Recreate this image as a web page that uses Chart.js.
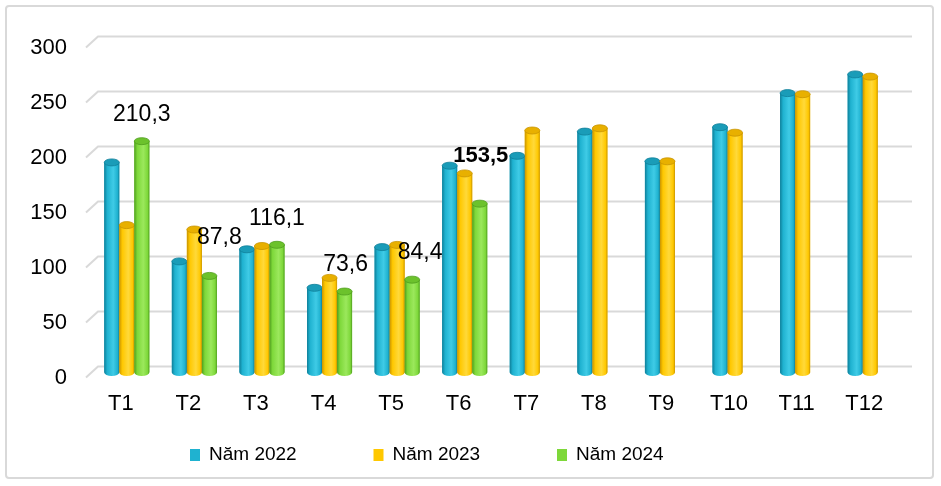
<!DOCTYPE html>
<html>
<head>
<meta charset="utf-8">
<script src="https://cdn.jsdelivr.net/npm/chart.js@4.4.1/dist/chart.umd.min.js"></script>
<style>
  html, body { margin: 0; padding: 0; background: #fff; }
  #wrap { width: 941px; height: 486px; }
</style>
</head>
<body>
<div id="wrap"><canvas id="chart" width="941" height="486"></canvas></div>
<script>
  'use strict';

  // Data
  const months = ['T1', 'T2', 'T3', 'T4', 'T5', 'T6', 'T7', 'T8', 'T9', 'T10', 'T11', 'T12'];
  const nam2022 = [191, 101, 112, 77, 114, 188, 197, 219, 192, 223, 254, 271];
  const nam2023 = [134, 130, 115, 86, 116, 181, 220, 222, 192, 218, 253, 269];
  const nam2024 = [210.3, 87.8, 116.1, 73.6, 84.4, 153.5, null, null, null, null, null, null];
  const seriesNames = ['Năm 2022', 'Năm 2023', 'Năm 2024'];

  const FONT = '"Liberation Sans", Arial, sans-serif';

  // base / light / dark shade per series
  const shades = [
    { base: '#1fb2d0', light: '#3fcbe6', dark: '#0f7f99', top: '#1a9cb8' },
    { base: '#ffc800', light: '#ffd93a', dark: '#c99400', top: '#e8b000' },
    { base: '#7ed83a', light: '#9be85c', dark: '#4f9e1e', top: '#6cc22c' }
  ];

  // hand placement of the value labels (same as the original, which moved some)
  const labelNudge = [
    { dx: 0, dy: -23 }, { dx: 10, dy: -35 }, { dx: 0, dy: -23 },
    { dx: 1, dy: -23 }, { dx: 8, dy: -24 }, { dx: 1, dy: -44, bold: true }
  ];

  const DEPTH_X = 12, DEPTH_Y = 11;   // fake 3D back wall
  const BAR_SHIFT_X = 6, BAR_SHIFT_Y = -5;

  function fmt(v) {
    return v.toFixed(1).replace('.', ',');
  }

  // frame + 3D-ish gridlines
  const backdrop = {
    id: 'backdrop',
    beforeDraw(chart) {
      const ctx = chart.ctx;
      ctx.save();
      ctx.fillStyle = '#fff';
      ctx.fillRect(0, 0, chart.width, chart.height);
      ctx.strokeStyle = '#d9d9d9';
      ctx.lineWidth = 2;
      ctx.beginPath();
      ctx.roundRect(6, 6, 927, 472, 3);
      ctx.stroke();
      ctx.restore();
    },
    beforeDatasetsDraw(chart) {
      const ctx = chart.ctx;
      const y = chart.scales.y;
      const area = chart.chartArea;
      ctx.save();
      ctx.strokeStyle = '#d9d9d9';
      ctx.lineWidth = 2;
      y.ticks.forEach(t => {
        const py = y.getPixelForValue(t.value);
        ctx.beginPath();
        ctx.moveTo(area.left - 1, py);
        ctx.lineTo(area.left - 1 + DEPTH_X, py - DEPTH_Y);
        ctx.lineTo(area.right + 14, py - DEPTH_Y);
        ctx.stroke();
      });
      ctx.restore();

      // bars sit a little behind the front plane
      ctx.save();
      ctx.translate(BAR_SHIFT_X, BAR_SHIFT_Y);
    },
    afterDatasetsDraw(chart) {
      const ctx = chart.ctx;
      chart.data.datasets.forEach((ds, di) => {
        const meta = chart.getDatasetMeta(di);
        const s = shades[di];
        meta.data.forEach((bar, i) => {
          if (ds.data[i] == null) return;
          const w = bar.width;
          const left = bar.x - w / 2;
          const top = bar.y;
          const h = bar.base - bar.y;
          const ry = 3.5;

          const g = ctx.createLinearGradient(left, 0, left + w, 0);
          g.addColorStop(0, s.dark);
          g.addColorStop(0.2, s.base);
          g.addColorStop(0.6, s.light);
          g.addColorStop(0.88, s.base);
          g.addColorStop(1, s.dark);

          ctx.fillStyle = g;
          ctx.beginPath();
          ctx.moveTo(left, top);
          ctx.lineTo(left, top + h);
          ctx.ellipse(bar.x, top + h, w / 2, ry, 0, Math.PI, 0, true);
          ctx.lineTo(left + w, top);
          ctx.closePath();
          ctx.fill();

          ctx.beginPath();
          ctx.ellipse(bar.x, top, w / 2, ry, 0, 0, Math.PI * 2);
          ctx.fillStyle = s.top;
          ctx.fill();
          ctx.strokeStyle = s.dark;
          ctx.lineWidth = 0.8;
          ctx.stroke();
        });
      });

      // value labels for 2024
      const meta = chart.getDatasetMeta(2);
      ctx.fillStyle = '#000';
      ctx.textAlign = 'center';
      ctx.textBaseline = 'middle';
      nam2024.forEach((v, i) => {
        if (v == null) return;
        const bar = meta.data[i];
        const n = labelNudge[i];
        ctx.font = (n.bold ? 'bold ' : '') + (n.bold ? '22px ' : '23px ') + FONT;
        ctx.fillText(fmt(v), bar.x + n.dx, bar.y - 3.5 + n.dy);
      });
      ctx.restore();
    },
    afterDraw(chart) {
      const ctx = chart.ctx;
      ctx.save();
      ctx.font = '19px ' + FONT;
      ctx.textBaseline = 'middle';
      ctx.textAlign = 'left';
      const legendY = 455;
      seriesNames.forEach((name, i) => {
        const x = 190 + i * 183.5;
        ctx.fillStyle = shades[i].base;
        ctx.fillRect(x, legendY - 6, 10, 12);
        ctx.fillStyle = '#000';
        ctx.fillText(name, x + 19, legendY);
      });
      ctx.restore();
    }
  };

  new Chart(document.getElementById('chart'), {
    type: 'bar',
    data: {
      labels: months,
      datasets: [
        { label: seriesNames[0], data: nam2022, backgroundColor: shades[0].base },
        { label: seriesNames[1], data: nam2023, backgroundColor: shades[1].base },
        { label: seriesNames[2], data: nam2024, backgroundColor: shades[2].base }
      ]
    },
    options: {
      responsive: false,
      animation: false,
      devicePixelRatio: 1,
      layout: { padding: { left: 0, top: 47.5, right: 43, bottom: 0 } },
      datasets: {
        bar: { barPercentage: 1, categoryPercentage: 0.667, borderWidth: 0 }
      },
      plugins: {
        legend: { display: false },
        tooltip: { enabled: false }
      },
      scales: {
        x: {
          grid: { display: false, drawTicks: false },
          border: { display: false },
          ticks: { color: '#000', font: { family: FONT, size: 22 }, padding: 13, maxRotation: 0 },
          afterFit(scale) { scale.height = 108.5; }
        },
        y: {
          min: 0,
          max: 300,
          grid: { display: false, drawTicks: false },
          border: { display: false },
          ticks: { stepSize: 50, color: '#000', font: { family: FONT, size: 22 }, padding: 20 },
          afterFit(scale) { scale.width = 87; }
        }
      }
    },
    plugins: [backdrop]
  });
</script>
</body>
</html>
